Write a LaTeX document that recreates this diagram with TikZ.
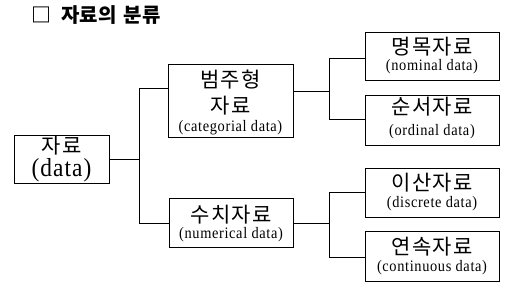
\documentclass[tikz,border=0pt]{standalone}
\usepackage{fontspec}
\setmainfont{Liberation Serif}[FakeStretch=0.9,LetterSpace=4]
\newfontfamily\kr{Noto Sans CJK KR}[LetterSpace=6]
\newfontfamily\krt{Noto Sans CJK KR}
\begin{document}
\begin{tikzpicture}[x=1pt,y=-1pt,
  box/.style={draw, line width=1pt, inner sep=0pt, anchor=north west},
  ko/.style={inner sep=0pt, font=\kr\fontsize{21}{22}\selectfont},
  en/.style={inner sep=0pt, font=\fontsize{16}{18}\selectfont},
  conn/.style={line width=1pt}]
\useasboundingbox (0,0) rectangle (506,287);
% title
\node[anchor=west, inner sep=0pt, font=\krt\bfseries\fontsize{20}{22}\selectfont] (title) at (31,15) {□\hspace{10pt}자료의\hspace{3pt} 분류};
% boxes
\node[box, minimum width=95, minimum height=48] (data) at (14,135) {};
\node[box, minimum width=125, minimum height=73] (bz) at (168,64) {};
\node[box, minimum width=124, minimum height=49] (sc) at (169,198) {};
\node[box, minimum width=134, minimum height=48] (mm) at (365,32) {};
\node[box, minimum width=134, minimum height=50] (ss) at (365,95) {};
\node[box, minimum width=134, minimum height=49] (is) at (365,168) {};
\node[box, minimum width=134, minimum height=50] (ys) at (365,231) {};
% texts
\node[ko] (dataK) at (61.5,146) {자료};
\node[en, font=\fontsize{26}{28}\selectfont] (dataE) at (61.5,170) {(data)};
\node[ko] (bzK1) at (230.5,80) {범주형};
\node[ko] (bzK2) at (230.5,106) {자료};
\node[en] (bzE) at (230.5,128) {(categorial data)};
\node[ko] (scK) at (231,215) {수치자료};
\node[en] (scE) at (231,235) {(numerical data)};
\node[ko] (mmK) at (432,47) {명목자료};
\node[en] (mmE) at (432,67) {(nominal data)};
\node[ko] (ssK) at (432,107) {순서자료};
\node[en] (ssE) at (432,132) {(ordinal data)};
\node[ko] (isK) at (432,183) {이산자료};
\node[en] (isE) at (432,204) {(discrete data)};
\node[ko] (ysK) at (432,247) {연속자료};
\node[en] (ysE) at (432,268) {(continuous data)};
% junctions
\coordinate (j1) at (139,159);
\coordinate (j1a) at (139,88);
\coordinate (j1b) at (139,223);
\coordinate (j2) at (329,91);
\coordinate (j2a) at (329,58);
\coordinate (j2b) at (329,119);
\coordinate (j3) at (329,223);
\coordinate (j3a) at (329,192);
\coordinate (j3b) at (329,257);
% connectors
\draw[conn] (data.east |- j1) -- (j1);
\draw[conn] (j1a) -- (j1b);
\draw[conn] (j1a) -- (bz.west |- j1a);
\draw[conn] (j1b) -- (sc.west |- j1b);
\draw[conn] (bz.east |- j2) -- (j2);
\draw[conn] (j2a) -- (j2b);
\draw[conn] (j2a) -- (mm.west |- j2a);
\draw[conn] (j2b) -- (ss.west |- j2b);
\draw[conn] (sc.east |- j3) -- (j3);
\draw[conn] (j3a) -- (j3b);
\draw[conn] (j3a) -- (is.west |- j3a);
\draw[conn] (j3b) -- (ys.west |- j3b);
\end{tikzpicture}
\end{document}
